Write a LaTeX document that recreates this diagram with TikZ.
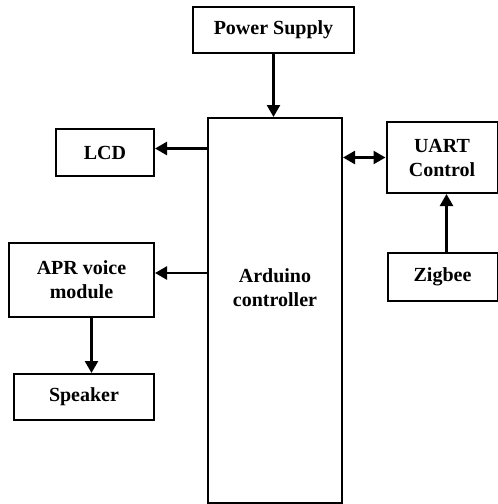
\documentclass[tikz,border=0pt]{standalone}
\usepackage{fontspec}
\setmainfont{Liberation Serif}
\usetikzlibrary{arrows.meta}

\begin{document}
\begin{tikzpicture}[
    x=0.5pt, y=-0.5pt,
    font=\bfseries,
    blk/.style={draw, line width=1pt, inner sep=0pt, align=center},
    arr/.style={line width=1.2pt, -{Triangle[length=6pt, width=6.5pt]}},
    darr/.style={line width=1.2pt, {Triangle[length=6pt, width=6.5pt]}-{Triangle[length=6pt, width=6.5pt]}},
]

\useasboundingbox (0,0) rectangle (498,504);

% Blocks
\node[blk, minimum width=80.5pt, minimum height=23pt] (pwr) at (273.5, 30) {Power Supply};
\node[blk, minimum width=67pt, minimum height=192.5pt] (ard) at (275, 310.5) {};
\node[align=center] (ardtxt) at (275, 288) {Arduino\\controller};
\node[blk, minimum width=49pt, minimum height=23.5pt] (lcd) at (105, 152.5) {LCD};
\node[blk, minimum width=55.5pt, minimum height=35.5pt] (uart) at (442, 157.5) {UART\\Control};
\node[blk, minimum width=55pt, minimum height=24pt] (zig) at (442.5, 277) {Zigbee};
\node[blk, minimum width=72.5pt, minimum height=37pt] (apr) at (81.5, 280) {APR voice\\module};
\node[blk, minimum width=70pt, minimum height=23pt] (spk) at (84, 397) {Speaker};

% Connections
\draw[arr] (pwr.south) -- (pwr.south |- ard.north);
\draw[arr] ([yshift=2pt]ard.west |- lcd.east) -- ([yshift=2pt]lcd.east);
\draw[arr] ([yshift=3.5pt]ard.west |- apr.east) -- ([yshift=3.5pt]apr.east);
\draw[darr] (ard.east |- uart.west) -- (uart.west);
\draw[arr] ([xshift=2pt]zig.north) -- ([xshift=2pt]zig.north |- uart.south);
\draw[arr] ([xshift=5pt]apr.south) -- ([xshift=5pt]apr.south |- spk.north);

\end{tikzpicture}
\end{document}
